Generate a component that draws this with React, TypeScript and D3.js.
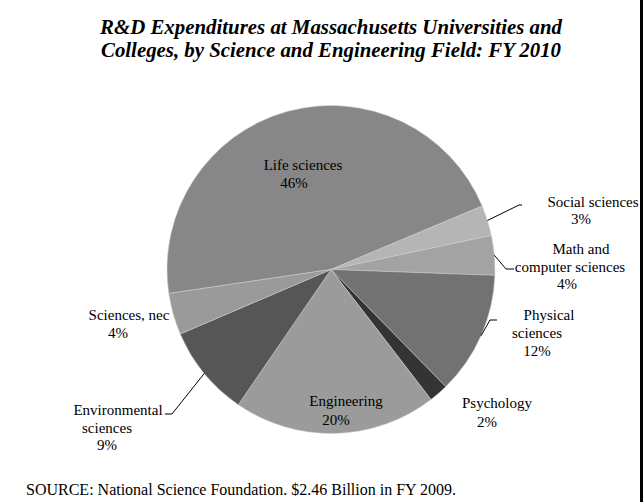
import React, { useEffect } from 'react';
import * as d3 from 'd3';

// ---- data ----
const categories = [
  'Life sciences',
  'Social sciences',
  'Math and computer sciences',
  'Physical sciences',
  'Psychology',
  'Engineering',
  'Environmental sciences',
  'Sciences, nec',
];
const shares = [46.0, 3.0, 3.9, 12.1, 1.9, 20.0, 9.0, 4.1];
const labelLines = [
  ['Life sciences', '46%'],
  ['Social sciences', '3%'],
  ['Math and', 'computer sciences', '4%'],
  ['Physical', 'sciences', '12%'],
  ['Psychology', '2%'],
  ['Engineering', '20%'],
  ['Environmental', 'sciences', '9%'],
  ['Sciences, nec', '4%'],
];
const sliceColors = ['#878787', '#b5b5b5', '#a3a3a3', '#727272', '#343434', '#9b9b9b', '#565656', '#9a9a9a'];
const titleLines = [
  'R&D Expenditures at Massachusetts Universities and',
  'Colleges, by Science and Engineering Field: FY 2010',
];
const sourceNote = 'SOURCE: National Science Foundation. $2.46 Billion in FY 2009.';

// ---- layout (positions, not data) ----
const W = 644;
const H = 502;
const cx = 331;
const cy = 269.5;
const R = 164;
const startDeg = 261.6;
// label line anchors: [x, baseline y] per line
const labelAnchors: number[][][] = [
  [[303, 170], [294, 188]],
  [[593, 207], [581, 224]],
  [[581, 254], [570, 272], [567, 289]],
  [[549, 320], [537, 338], [537, 356]],
  [[497, 408], [487, 427]],
  [[346, 406], [336, 425]],
  [[118, 415], [107, 433], [107, 450]],
  [[129, 320], [118, 338]],
];
// leader elbows per slice (null = no leader)
const leaderElbows: (number[][] | null)[] = [
  null,
  [[519, 205], [522, 205]],
  [[506, 269], [514, 269]],
  [[490, 320], [497, 320]],
  null,
  null,
  [[172, 414], [165, 414]],
  null,
];

export default function App() {
  useEffect(() => {
    document.body.style.margin = '0';
  }, []);

  const start = (startDeg * Math.PI) / 180;
  const pie = d3
    .pie<number>()
    .sort(null)
    .value((d) => d)
    .startAngle(start)
    .endAngle(start + 2 * Math.PI);
  const arcs = pie(shares);
  const arc = d3.arc<d3.PieArcDatum<number>>().innerRadius(0).outerRadius(R);
  const edgeArc = d3.arc<d3.PieArcDatum<number>>().innerRadius(R).outerRadius(R);
  const line = d3.line();

  return (
    <div style={{ position: 'absolute', left: 0, top: 0 }}>
      <svg width={W} height={H} style={{ display: 'block', background: '#fff' }}>
        <rect x={0} y={0} width={W} height={H} fill="#fff" />
        <g fontFamily="'Liberation Serif', 'Times New Roman', serif" fontWeight="bold" fontStyle="italic" fontSize={21} textAnchor="middle" fill="#000">
          {titleLines.map((t, i) => (
            <text key={i} x={331} y={34 + i * 23} textLength={i === 0 ? 462 : 460} lengthAdjust="spacingAndGlyphs">
              {t}
            </text>
          ))}
        </g>
        <g transform={`translate(${cx},${cy})`}>
          {arcs.map((a, i) => (
            <path key={categories[i]} d={arc(a) || ''} fill={sliceColors[i]} stroke="#d0d0d0" strokeWidth={0.5} />
          ))}
        </g>
        <g fill="none" stroke="#000" strokeWidth={1}>
          {arcs.map((a, i) => {
            const el = leaderElbows[i];
            if (!el) return null;
            const [ex, ey] = edgeArc.centroid(a);
            const pts: [number, number][] = [[cx + ex, cy + ey], ...el.map((p) => [p[0], p[1]] as [number, number])];
            return <path key={i} d={line(pts) || ''} />;
          })}
        </g>
        <g fontFamily="'Liberation Serif', 'Times New Roman', serif" fontSize={15} textAnchor="middle" fill="#000">
          {labelLines.map((lines, i) =>
            lines.map((t, j) => (
              <text key={`${i}-${j}`} x={labelAnchors[i][j][0]} y={labelAnchors[i][j][1]}>
                {t}
              </text>
            ))
          )}
        </g>
        <text x={26} y={495} fontFamily="'Liberation Serif', 'Times New Roman', serif" fontSize={16} fill="#000">
          {sourceNote}
        </text>
        <rect x={640} y={0} width={3} height={H} fill="#000" />
      </svg>
    </div>
  );
}
